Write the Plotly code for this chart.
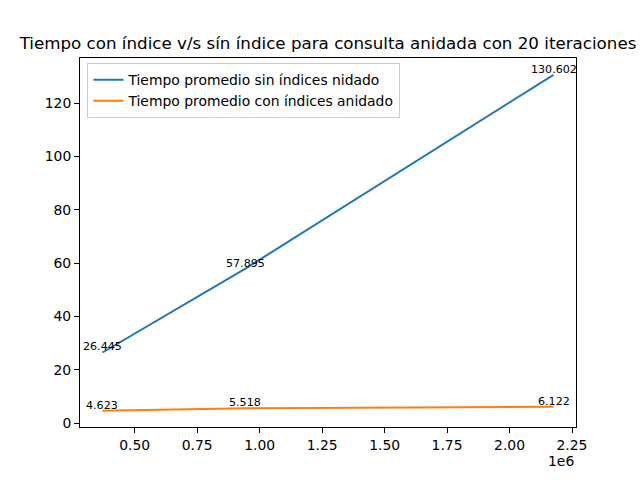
import plotly.graph_objects as go

x_vals = [371000, 943000, 2176000]
sin_indices = [26.445, 57.895, 130.602]
con_indices = [4.623, 5.518, 6.122]
x_tickvals = [500000, 750000, 1000000, 1250000, 1500000, 1750000, 2000000, 2250000]
x_ticktext = ["0.50", "0.75", "1.00", "1.25", "1.50", "1.75", "2.00", "2.25"]
y_tickvals = [0, 20, 40, 60, 80, 100, 120]
names = ["Tiempo promedio sin índices nidado", "Tiempo promedio con índices anidado"]
colors = ["#1f77b4", "#ff7f0e"]
title = "Tiempo con índice v/s sín índice para consulta anidada con 20 iteraciones"

fig = go.Figure()
for ys, name, c in zip([sin_indices, con_indices], names, colors):
    fig.add_trace(go.Scatter(x=x_vals, y=ys, mode="lines", name=name,
                             line=dict(color=c, width=2)))

ann = []
for ys in [sin_indices, con_indices]:
    for xv, yv in zip(x_vals, ys):
        ann.append(dict(x=xv, y=yv, text=f"{yv:g}", showarrow=False,
                        xanchor="center", yanchor="bottom", yshift=-3,
                        font=dict(size=11.1, color="black")))
ann.append(dict(xref="paper", yref="paper", x=1, y=-0.092, text="1e6",
                showarrow=False, xanchor="right", yanchor="middle",
                font=dict(size=13.9, color="black")))

axis_common = dict(showline=True, linecolor="black", linewidth=1, mirror=True,
                   ticks="outside", ticklen=5, tickwidth=1, tickcolor="black",
                   showgrid=False, zeroline=False,
                   tickfont=dict(size=13.9, color="black"))

fig.update_layout(
    width=640, height=480,
    margin=dict(l=80, r=64, t=58, b=53),
    paper_bgcolor="white", plot_bgcolor="white",
    font=dict(family="DejaVu Sans", color="black"),
    title=dict(text=title, x=0.5, xanchor="center", xref="paper",
               y=1 - 43 / 480, yref="container", yanchor="middle",
               font=dict(size=16.7, color="black")),
    xaxis=dict(range=[281000, 2266000], tickvals=x_tickvals, ticktext=x_ticktext, **axis_common),
    yaxis=dict(range=[-1.5, 136.9], tickvals=y_tickvals, **axis_common),
    legend=dict(x=0.015, y=0.986, xanchor="left", yanchor="top",
                bgcolor="rgba(255,255,255,0.8)", bordercolor="#cccccc", borderwidth=1,
                font=dict(size=13.9, color="black"), tracegroupgap=0),
    annotations=ann,
    showlegend=True,
)
fig.write_html("out.html")
